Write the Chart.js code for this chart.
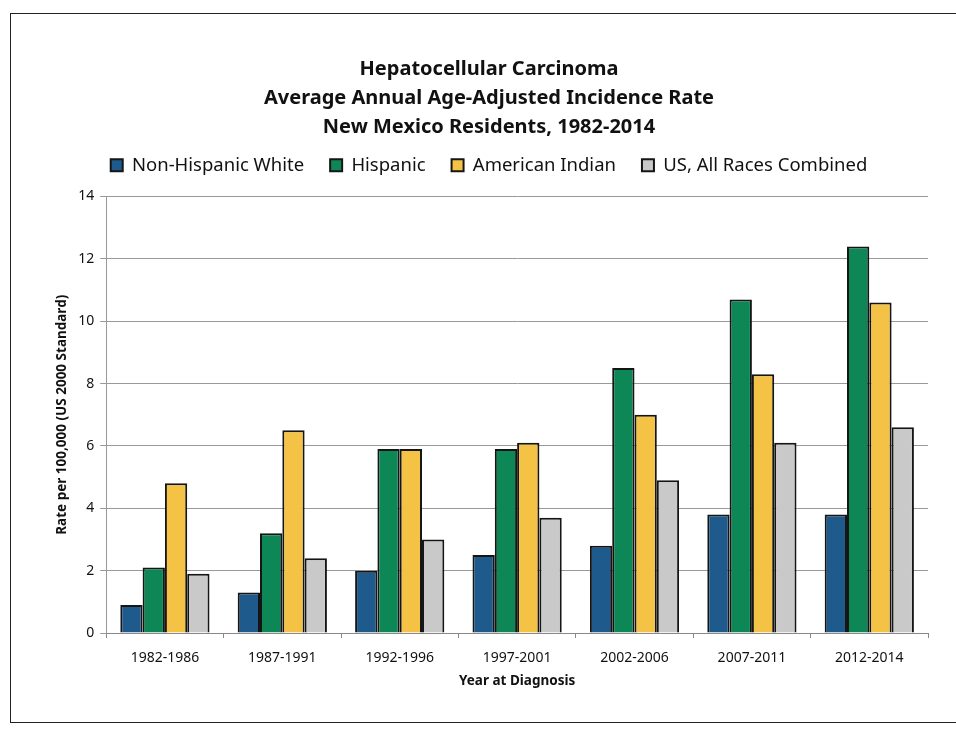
<!DOCTYPE html>
<html>
<head>
<meta charset="utf-8">
<script src="https://cdn.jsdelivr.net/npm/chart.js@4"></script>
<style>
  body { margin: 0; background: #fff; }
  .wrap { position: relative; width: 956px; height: 732px; overflow: hidden; }
  .frame { position: absolute; left: 10px; top: 13px; width: 960px; height: 708px; border: 1.5px solid #222; pointer-events: none; }
  canvas { position: absolute; left: 0; top: 0; }
</style>
</head>
<body>
<div class="wrap">
  <canvas id="myChart" width="956" height="732"></canvas>
  <div class="frame"></div>
</div>
<script>
// periods on the x axis
const periods = ["1982-1986", "1987-1991", "1992-1996", "1997-2001", "2002-2006", "2007-2011", "2012-2014"];

// rates per 100,000
const nonHispanicWhite = [0.9, 1.3, 2.0, 2.5, 2.8, 3.8, 3.8];
const hispanic = [2.1, 3.2, 5.9, 5.9, 8.5, 10.7, 12.4];
const americanIndian = [4.8, 6.5, 5.9, 6.1, 7.0, 8.3, 10.6];
const usAllRaces = [1.9, 2.4, 3.0, 3.7, 4.9, 6.1, 6.6];

const titleLines = [
  "Hepatocellular Carcinoma",
  "Average Annual Age-Adjusted Incidence Rate",
  "New Mexico Residents, 1982-2014",
];

const fontName = "'Noto Sans', 'Open Sans', sans-serif";

function bar(label, data, color) {
  return {
    label: label,
    data: data,
    backgroundColor: color,
    borderColor: "#151515",
    borderWidth: 2,
    categoryPercentage: 0.76,
    barPercentage: 1.0,
  };
}

// a bit more room under the legend
const legendGap = {
  id: "legendGap",
  beforeInit(chart) {
    const fit = chart.legend.fit;
    chart.legend.fit = function () {
      fit.bind(chart.legend)();
      this.height += 12;
    };
  },
};

var ctx = document.getElementById("myChart").getContext("2d");
var myChart = new Chart(ctx, {
  type: "bar",
  data: {
    labels: periods,
    datasets: [
      bar("Non-Hispanic White", nonHispanicWhite, "#1f5a8c"),
      bar("Hispanic", hispanic, "#0e8757"),
      bar("American Indian", americanIndian, "#f4c244"),
      bar("US, All Races Combined", usAllRaces, "#c9c9c9"),
    ],
  },
  plugins: [legendGap],
  options: {
    responsive: false,
    animation: false,
    layout: {
      padding: { top: 40, left: 50, right: 28, bottom: 39 },
    },
    plugins: {
      title: {
        display: true,
        text: titleLines,
        color: "#111",
        font: { family: fontName, size: 20, weight: "bold", lineHeight: 1.45 },
        padding: { top: 15, bottom: -12 },
      },
      legend: {
        position: "top",
        labels: {
          color: "#111",
          font: { family: fontName, size: 18.5 },
          boxWidth: 12,
          boxHeight: 12,
          padding: 26,
        },
      },
      tooltip: { enabled: false },
    },
    scales: {
      x: {
        grid: {
          offset: true,
          drawOnChartArea: false,
          drawTicks: true,
          tickLength: 5,
          color: "#888",
        },
        border: { color: "#888" },
        ticks: {
          color: "#111",
          font: { family: fontName, size: 14 },
          padding: 12,
          maxRotation: 0,
        },
        title: {
          display: true,
          text: "Year at Diagnosis",
          color: "#111",
          font: { family: fontName, size: 13.5, weight: "bold" },
          padding: { top: -6 },
        },
      },
      y: {
        min: 0,
        max: 14,
        ticks: {
          stepSize: 2,
          color: "#111",
          font: { family: fontName, size: 14 },
          padding: 6,
        },
        grid: {
          color: "#999",
          tickLength: 6,
        },
        border: { color: "#999" },
        title: {
          display: true,
          text: "Rate per 100,000 (US 2000 Standard)",
          color: "#111",
          font: { family: fontName, size: 13.5, weight: "bold" },
          padding: { bottom: 2 },
        },
      },
    },
  },
});
</script>
</body>
</html>
